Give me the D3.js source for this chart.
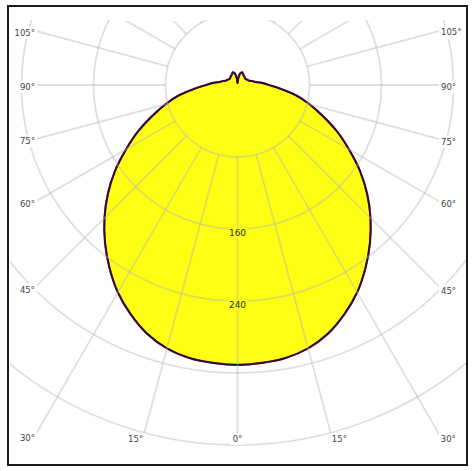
<!DOCTYPE html>
<html><head><meta charset="utf-8">
<script src="https://cdn.jsdelivr.net/npm/d3@7"></script>
<style>html,body{margin:0;padding:0;background:#fff;} svg{display:block;}</style>
</head><body>
<script>
// Angles (degrees from nadir) and luminous intensity (cd) for the two C-planes
const angles = [0,5,10,15,20,25,30,35,40,45,50,55,60,65,70,75,80,85,90,95,100,105,110,115,120,130,140,150,155,160,165,170,175,180];
const intensityC0 = [311,310,308,303,294,281,266,248,229,209,188,166,143,122,101,83,66,48,35,27,20,17,14,13,12,11,12,13,14,15,14,11,6,2];
const intensityC90 = [311,310,308,303,294,281,266,248,229,209,188,166,143,122,101,83,66,48,35,27,20,17,14,13,12,11,12,13,14,15,14,11,6,2];
const ringValues = [80,160,240,320,400];
const ringLabelValues = [160,240];
const spokeAngles = [0,15,30,45,60,75,90,105,120,135,150,165,180];
const degreeLabelAngles = [0,15,30,45,60,75,90,105];

const W = 476, H = 471;
const cx = 237.5, cy = 85;
const r = d3.scaleLinear().domain([0, 400]).range([0, 360]);
const box = {x0: 35, x1: 441, y0: 21, y1: 437};

const svg = d3.select("body").append("svg").attr("width", W).attr("height", H);
const defs = svg.append("defs");
defs.append("clipPath").attr("id", "ringClip").append("rect")
  .attr("x", 10).attr("y", 20).attr("width", 456).attr("height", 432);
defs.append("clipPath").attr("id", "spokeClip").append("rect")
  .attr("x", box.x0).attr("y", box.y0).attr("width", box.x1 - box.x0).attr("height", box.y1 - box.y0);

const g = svg.append("g").attr("transform", `translate(${cx},${cy})`);

function closedPoints(vals) {
  const pts = [];
  for (let i = angles.length - 1; i >= 0; i--) pts.push({a: Math.PI - angles[i] * Math.PI / 180, v: vals[i]});
  for (let i = 1; i < angles.length - 1; i++) pts.push({a: Math.PI + angles[i] * Math.PI / 180, v: vals[i]});
  return pts;
}
const radial = d3.lineRadial().angle(d => d.a).radius(d => r(d.v)).curve(d3.curveCatmullRomClosed.alpha(0.5));

// fill
g.append("path").attr("d", radial(closedPoints(intensityC0))).attr("fill", "#fefe14").attr("stroke", "none");

// grid
const gridColor = "#b2b2b2", gridOp = 0.42, gridW = 1.8;
const rings = svg.append("g").attr("clip-path", "url(#ringClip)")
  .append("g").attr("transform", `translate(${cx},${cy})`);
rings.selectAll("circle").data(ringValues).join("circle")
  .attr("r", d => r(d)).attr("fill", "none")
  .attr("stroke", gridColor).attr("stroke-opacity", gridOp).attr("stroke-width", gridW);

const spokeData = [];
spokeAngles.forEach(t => { spokeData.push(t); if (t !== 0 && t !== 180) spokeData.push(-t); });
const spokes = svg.append("g").attr("clip-path", "url(#spokeClip)")
  .append("g").attr("transform", `translate(${cx},${cy})`);
spokes.selectAll("line").data(spokeData).join("line")
  .attr("x1", d => r(ringValues[0]) * Math.sin(d * Math.PI / 180))
  .attr("y1", d => r(ringValues[0]) * Math.cos(d * Math.PI / 180))
  .attr("x2", d => 700 * Math.sin(d * Math.PI / 180))
  .attr("y2", d => 700 * Math.cos(d * Math.PI / 180))
  .attr("stroke", gridColor).attr("stroke-opacity", gridOp).attr("stroke-width", gridW);

// outlines
g.append("path").attr("d", radial(closedPoints(intensityC0))).attr("fill", "none")
  .attr("stroke", "#a0103a").attr("stroke-width", 2.2);
g.append("path").attr("d", radial(closedPoints(intensityC90))).attr("fill", "none")
  .attr("stroke", "#18143e").attr("stroke-width", 1.6);

// intensity labels
const il = svg.append("g");
ringLabelValues.forEach(v => {
  const t = il.append("text").attr("x", cx).attr("y", cy + r(v) + 4)
    .attr("text-anchor", "middle").attr("dominant-baseline", "central")
    .attr("font-family", "DejaVu Sans, Verdana, sans-serif").attr("font-size", 9)
    .attr("fill", "#2a2a2a").text(v);
  const b = t.node().getBBox();
  il.insert("rect", "text").attr("x", b.x - 1).attr("y", b.y).attr("width", b.width + 2).attr("height", b.height)
    .attr("fill", "#fefe14");
});

// degree labels
function hit(dx, dy) {
  const ts = [];
  if (dx < 0) ts.push((box.x0 - cx) / dx);
  if (dx > 0) ts.push((box.x1 - cx) / dx);
  if (dy > 0) ts.push((box.y1 - cy) / dy);
  if (dy < 0) ts.push((box.y0 - cy) / dy);
  const t = Math.min(...ts);
  return [cx + dx * t, cy + dy * t];
}
const dl = svg.append("g");
degreeLabelAngles.forEach(a => {
  const sides = a === 0 ? [0] : [-1, 1];
  sides.forEach(s => {
    const rad = a * Math.PI / 180;
    const dx = s === 0 ? 0 : s * Math.sin(rad), dy = Math.cos(rad);
    const [x, y] = hit(dx, dy);
    const t = dl.append("text").attr("x", x).attr("y", y + 2)
      .attr("text-anchor", s < 0 ? "end" : (s > 0 ? "start" : "middle"))
      .attr("dominant-baseline", "central")
      .attr("font-family", "DejaVu Sans, Verdana, sans-serif").attr("font-size", 8.5)
      .attr("fill", "#444").text(a + "°");
    const b = t.node().getBBox();
    dl.insert("rect", "text").attr("x", b.x - 2).attr("y", b.y - 1).attr("width", b.width + 4).attr("height", b.height + 2)
      .attr("fill", "#fff");
  });
});

// frame
svg.append("rect").attr("x", 8).attr("y", 6).attr("width", 459).attr("height", 459)
  .attr("fill", "none").attr("stroke", "#1a1a1a").attr("stroke-width", 2);
</script>
</body></html>
